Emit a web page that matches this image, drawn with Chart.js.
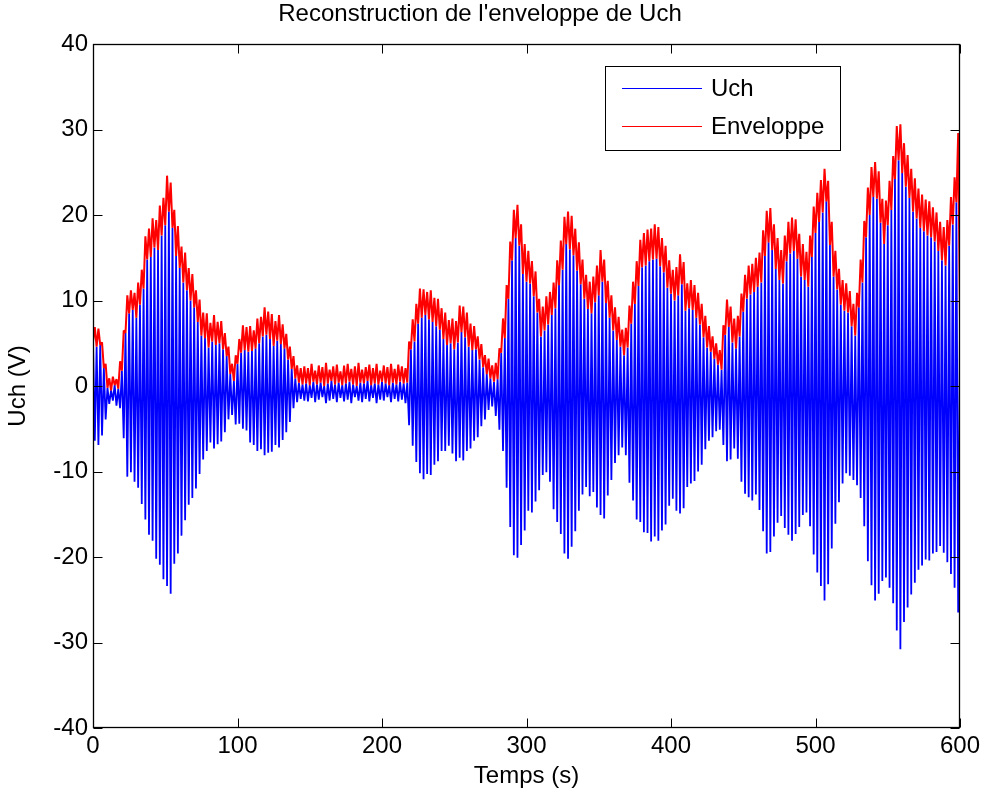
<!DOCTYPE html>
<html>
<head>
<meta charset="utf-8">
<script src="https://cdn.jsdelivr.net/npm/chart.js@4.4.1/dist/chart.umd.min.js"></script>
<style>
html,body{margin:0;padding:0;background:#ffffff;}
#wrap{width:981px;height:798px;}
</style>
</head>
<body>
<div id="wrap"><canvas id="c" width="981" height="798"></canvas></div>
<script>
// ---------- texts ----------
const chartTitle = "Reconstruction de l'enveloppe de Uch";
const xAxisTitle = "Temps (s)";
const yAxisTitle = "Uch (V)";
const seriesNames = ["Uch", "Enveloppe"];

// ---------- tick labels ----------
const xTickValues = [0, 100, 200, 300, 400, 500, 600];
const yTickValues = [-40, -30, -20, -10, 0, 10, 20, 30, 40];

// ---------- sampling (s) ----------
const sampleStep = 2.5; // Uch crest every 2.5 s, trough half a step later

// Uch crests (V) at t = 0, 2.5, 5, ... 600
const uchHigh = [
 5.2, 4.6, 4.8, 2.1, -0.2, -0.5, 0.1, -0.3, 1.8, 6.2,
 8.5, 8.9, 8.0, 9.5, 11.4, 14.8, 15.1, 16.2, 15.9, 17.6,
 18.8, 20.4, 18.5, 15.2, 13.8, 12.1, 11.2, 10.0, 9.2, 7.5,
 5.9, 5.6, 4.5, 5.2, 4.8, 5.0, 4.3, 3.5, 1.4, 0.6,
 2.6, 3.9, 4.2, 4.0, 4.1, 4.4, 5.0, 5.8, 6.0, 5.5,
 4.7, 5.3, 4.9, 4.4, 3.1, 2.0, 0.9, 0.4, 0.2, 0.3,
 0.1, 0.5, 0.2, 0.4, 0.0, 0.3, 0.6, 0.2, 0.4, 0.1,
 0.3, 0.5, 0.2, 0.0, 0.4, 0.3, 0.6, 0.1, 0.3, 0.2,
 0.5, 0.3, 0.1, 0.4, 0.2, 0.5, 0.3, 0.4, 4.3, 5.2,
 7.3, 8.0, 8.3, 7.8, 7.5, 7.0, 6.6, 5.5, 4.8, 5.0,
 4.3, 5.1, 6.3, 5.7, 4.6, 4.2, 4.3, 3.1, 2.2, 1.4,
 0.9, 0.5, 0.8, 3.9, 5.6, 10.2, 14.7, 17.3, 16.4, 13.1,
 12.2, 12.0, 10.5, 8.6, 5.8, 6.5, 7.2, 8.3, 9.1, 11.8,
 13.6, 16.6, 16.0, 15.3, 13.5, 11.9, 10.2, 9.0, 8.5, 9.8,
 10.6, 12.2, 9.7, 8.0, 6.5, 5.4, 4.6, 3.6, 4.5, 7.3,
 9.6, 11.7, 13.9, 14.1, 14.6, 14.8, 14.9, 14.0, 13.3, 11.5,
 10.8, 10.0, 10.6, 11.9, 8.8, 9.1, 8.9, 8.0, 7.2, 5.7,
 4.5, 4.0, 3.2, 2.5, 1.9, 6.0, 6.9, 5.1, 4.4, 5.8,
 8.7, 10.2, 10.7, 11.0, 11.6, 12.1, 15.2, 16.8, 15.9, 13.7,
 12.4, 12.0, 14.6, 15.5, 15.8, 14.9, 12.8, 12.4, 11.6, 15.1,
 17.9, 19.2, 20.3, 21.6, 16.5, 12.8, 11.3, 9.5, 8.8, 8.6,
 7.0, 5.9, 9.2, 12.1, 17.4, 20.0, 22.1, 21.9, 19.1, 16.6,
 18.8, 20.6, 24.2, 26.4, 24.9, 23.3, 22.0, 20.4, 19.6, 18.5,
 18.1, 17.6, 17.4, 16.9, 15.8, 14.7, 14.1, 16.4, 18.9, 21.5,
 7.8
];

// Uch troughs (V) at t = 1.25, 3.75, ... 598.75
const uchLow = [
 -6.4, -6.9, -5.8, -3.9, -2.1, -1.7, -2.3, -2.6, -6.1, -10.6,
 -10.1, -11.2, -11.9, -13.8, -15.6, -17.4, -18.1, -20.2, -20.9, -22.6,
 -23.4, -24.3, -20.8, -19.6, -17.5, -15.7, -13.9, -13.1, -12.0, -10.3,
 -8.6, -7.6, -6.6, -7.3, -6.8, -6.5, -5.4, -3.9, -3.4, -4.5,
 -4.4, -5.0, -5.2, -6.6, -6.9, -7.6, -7.4, -8.1, -7.8, -7.7,
 -6.9, -7.2, -6.3, -5.4, -4.2, -2.6, -1.9, -1.5, -1.7, -1.8,
 -1.4, -1.9, -1.6, -1.3, -2.0, -1.7, -1.5, -1.9, -1.4, -1.8,
 -1.6, -2.0, -1.3, -1.7, -1.9, -1.5, -1.8, -1.4, -2.0, -1.6,
 -1.7, -1.3, -1.9, -1.5, -1.8, -1.6, -2.0, -4.6, -7.0, -8.9,
 -10.2, -10.9, -10.3, -10.4, -9.2, -8.8, -7.6, -7.6, -7.0, -7.9,
 -8.8, -8.4, -8.7, -7.6, -7.3, -6.4, -6.0, -4.7, -3.9, -2.8,
 -2.4, -3.5, -5.1, -7.6, -11.9, -16.5, -19.8, -20.1, -18.6, -16.9,
 -14.6, -14.8, -13.5, -12.2, -10.4, -10.1, -11.2, -14.4, -15.9, -17.3,
 -19.6, -20.2, -18.8, -17.0, -14.6, -12.7, -11.8, -12.9, -12.4, -14.2,
 -15.1, -15.5, -12.8, -11.0, -9.0, -8.1, -7.2, -8.1, -11.3, -13.4,
 -15.6, -15.9, -17.1, -17.2, -18.2, -17.6, -18.1, -16.9, -16.2, -14.0,
 -13.2, -14.6, -14.9, -14.3, -11.8, -11.4, -11.1, -10.0, -9.2, -7.4,
 -6.4, -6.0, -5.3, -5.1, -6.9, -8.8, -8.6, -7.3, -8.5, -11.2,
 -12.6, -13.0, -13.4, -12.7, -14.5, -17.0, -19.6, -19.4, -17.6, -16.0,
 -15.2, -16.6, -17.4, -18.1, -17.3, -16.5, -15.1, -14.8, -16.4, -19.7,
 -21.8, -23.4, -25.1, -23.2, -19.0, -16.1, -13.6, -11.4, -10.2, -10.5,
 -11.0, -11.6, -13.1, -16.4, -20.5, -23.3, -25.1, -24.3, -22.8, -22.4,
 -23.6, -25.4, -28.6, -30.8, -27.6, -25.9, -24.4, -23.0, -21.5, -21.0,
 -20.3, -20.4, -19.6, -19.4, -18.7, -19.5, -20.6, -22.0, -23.6, -26.5
];

// Envelope ripple tops (V) at t = 1.25, 3.75, ... 598.75
const envTop = [
 6.9, 6.7, 5.1, 2.6, 0.9, 1.1, 0.8, 2.9, 6.5, 10.6,
 11.2, 10.9, 12.1, 13.6, 17.5, 18.4, 19.6, 19.4, 21.1, 22.0,
 24.6, 23.8, 20.6, 18.7, 16.3, 15.6, 13.8, 13.1, 11.2, 10.1,
 8.6, 8.5, 7.4, 8.3, 7.5, 7.6, 6.2, 4.6, 2.6, 3.6,
 5.5, 7.1, 6.9, 7.0, 6.5, 7.9, 8.1, 9.2, 8.7, 8.4,
 7.6, 8.3, 7.2, 6.1, 4.6, 3.5, 2.4, 2.1, 2.3, 2.1,
 2.6, 1.8, 2.4, 2.2, 2.7, 1.9, 2.3, 2.5, 1.7, 2.4,
 2.6, 2.0, 2.3, 2.7, 1.9, 2.2, 2.5, 2.1, 2.6, 1.8,
 2.4, 2.2, 2.6, 2.0, 2.5, 2.3, 2.1, 5.2, 7.8, 9.6,
 11.4, 11.3, 11.0, 11.2, 10.3, 10.2, 9.1, 8.6, 7.7, 7.9,
 7.6, 9.4, 9.3, 8.6, 7.3, 7.0, 5.8, 4.9, 3.6, 3.2,
 2.4, 2.7, 4.4, 7.9, 11.8, 16.9, 20.6, 21.2, 18.9, 16.6,
 15.8, 14.6, 13.4, 10.2, 9.3, 10.5, 11.0, 12.1, 14.7, 17.0,
 19.8, 20.4, 19.9, 18.4, 16.8, 14.8, 13.0, 12.2, 12.8, 14.1,
 15.9, 14.8, 12.3, 10.6, 9.2, 8.1, 6.6, 6.8, 9.4, 12.2,
 14.6, 17.1, 17.9, 18.3, 18.4, 18.9, 18.6, 17.3, 16.4, 14.7,
 13.6, 13.9, 15.4, 14.5, 12.0, 12.4, 11.8, 10.9, 9.6, 8.2,
 7.0, 5.8, 5.0, 4.2, 7.1, 10.1, 9.3, 7.9, 8.2, 10.8,
 13.0, 14.1, 14.3, 15.0, 15.6, 18.2, 20.5, 20.8, 18.9, 17.3,
 15.9, 17.6, 19.2, 19.7, 19.5, 17.8, 16.6, 15.7, 17.6, 21.0,
 22.6, 24.1, 25.4, 24.0, 19.2, 15.8, 13.7, 12.4, 12.0, 11.1,
 9.6, 10.9, 14.8, 19.3, 23.2, 25.6, 26.2, 25.1, 21.9, 21.7,
 24.0, 26.9, 30.4, 30.6, 28.4, 27.0, 25.4, 24.3, 23.1, 22.4,
 21.8, 21.6, 20.9, 20.3, 19.2, 18.6, 19.4, 22.1, 24.4, 29.6
];

// ---------- build point tables from the arrays ----------
const uchPoints = [];
const envPoints = [];
for (let k = 0; k < uchLow.length; k++) {
  const tCrest = k * sampleStep;
  const tMid = tCrest + sampleStep / 2;
  uchPoints.push({x: tCrest, y: uchHigh[k]});
  uchPoints.push({x: tMid, y: uchLow[k]});
  envPoints.push({x: tCrest, y: uchHigh[k]});
  envPoints.push({x: tMid, y: envTop[k]});
}
const lastK = uchLow.length;
uchPoints.push({x: lastK * sampleStep, y: uchHigh[lastK]});
envPoints.push({x: lastK * sampleStep, y: uchHigh[lastK]});

const FONT = '"Liberation Sans", Arial, Helvetica, sans-serif';
const FS = 24;

const matlabAxes = {
  id: 'matlabAxes',
  afterDraw(chart) {
    const ctx = chart.ctx;
    const ca = chart.chartArea;
    const xs = chart.scales.x, ys = chart.scales.y;
    const L = Math.round(ca.left) + 0.5, R = Math.round(ca.right) - 0.5;
    const T = Math.round(ca.top) + 0.5, B = Math.round(ca.bottom) - 0.5;
    ctx.save();
    ctx.strokeStyle = '#000';
    ctx.lineWidth = 1;
    ctx.beginPath();
    const tl = 9;
    xs.ticks.forEach(t => {
      const px = Math.round(xs.getPixelForValue(t.value)) + 0.5;
      ctx.moveTo(px, B); ctx.lineTo(px, B - tl);
      ctx.moveTo(px, T); ctx.lineTo(px, T + tl);
    });
    ys.ticks.forEach(t => {
      const py = Math.round(ys.getPixelForValue(t.value)) + 0.5;
      ctx.moveTo(L, py); ctx.lineTo(L + tl, py);
      ctx.moveTo(R, py); ctx.lineTo(R - tl, py);
    });
    ctx.stroke();
    ctx.lineWidth = 1.3;
    ctx.strokeRect(L, T, R - L, B - T);

    // legend box (MATLAB style, inside axes, top right)
    const bx = 605.5, by = 66.5, bw = 235, bh = 84;
    ctx.fillStyle = '#fff';
    ctx.fillRect(bx, by, bw, bh);
    ctx.lineWidth = 1;
    ctx.strokeStyle = '#000';
    ctx.strokeRect(bx, by, bw, bh);
    ctx.font = FS + 'px ' + FONT;
    ctx.textBaseline = 'middle';
    ctx.textAlign = 'left';
    chart.data.datasets.forEach((ds, i) => {
      const yy = 88.5 + i * 38;
      ctx.strokeStyle = ds.borderColor;
      ctx.lineWidth = 1;
      ctx.beginPath();
      ctx.moveTo(622, yy); ctx.lineTo(702, yy);
      ctx.stroke();
      ctx.fillStyle = '#000';
      ctx.fillText(ds.label, 711, yy + 1);
    });
    ctx.restore();
  }
};

const ctx = document.getElementById('c').getContext('2d');
new Chart(ctx, {
  type: 'line',
  data: {
    datasets: [
      {label: seriesNames[0], data: uchPoints, borderColor: '#0000ff', borderWidth: 1.8,
       pointRadius: 0, tension: 0, borderJoinStyle: 'bevel', fill: false, order: 2},
      {label: seriesNames[1], data: envPoints, borderColor: '#ff0000', borderWidth: 2,
       pointRadius: 0, tension: 0, borderJoinStyle: 'bevel', fill: false, order: 1}
    ]
  },
  options: {
    responsive: false,
    animation: false,
    devicePixelRatio: 1,
    events: [],
    layout: {padding: {left: 0, right: 21, top: 0, bottom: 0}},
    plugins: {
      legend: {display: false},
      tooltip: {enabled: false},
      title: {display: true, text: chartTitle, color: '#000',
        font: {family: FONT, size: FS, weight: 'normal'},
        padding: {top: 0, bottom: 15.2}}
    },
    scales: {
      x: {
        type: 'linear', min: 0, max: 600,
        afterBuildTicks: s => { s.ticks = xTickValues.map(v => ({value: v})); },
        ticks: {color: '#000', font: {family: FONT, size: FS}, padding: 4, maxRotation: 0, autoSkip: false},
        grid: {display: false, drawTicks: false},
        border: {display: false},
        title: {display: true, text: xAxisTitle, color: '#000', font: {family: FONT, size: FS},
          padding: {top: 0, bottom: 7.4}},
        afterFit: s => { s.height = 70; s.paddingLeft = 0; s.paddingRight = 0; }
      },
      y: {
        type: 'linear', min: -40, max: 40,
        afterBuildTicks: s => { s.ticks = yTickValues.map(v => ({value: v})); },
        ticks: {color: '#000', font: {family: FONT, size: FS}, padding: 5, autoSkip: false},
        grid: {display: false, drawTicks: false},
        border: {display: false},
        title: {display: true, text: yAxisTitle, color: '#000', font: {family: FONT, size: FS},
          padding: {top: 3.8, bottom: 0}},
        afterFit: s => { s.width = 93; s.paddingTop = 0; s.paddingBottom = 0; }
      }
    }
  },
  plugins: [matlabAxes]
});
</script>
</body>
</html>
